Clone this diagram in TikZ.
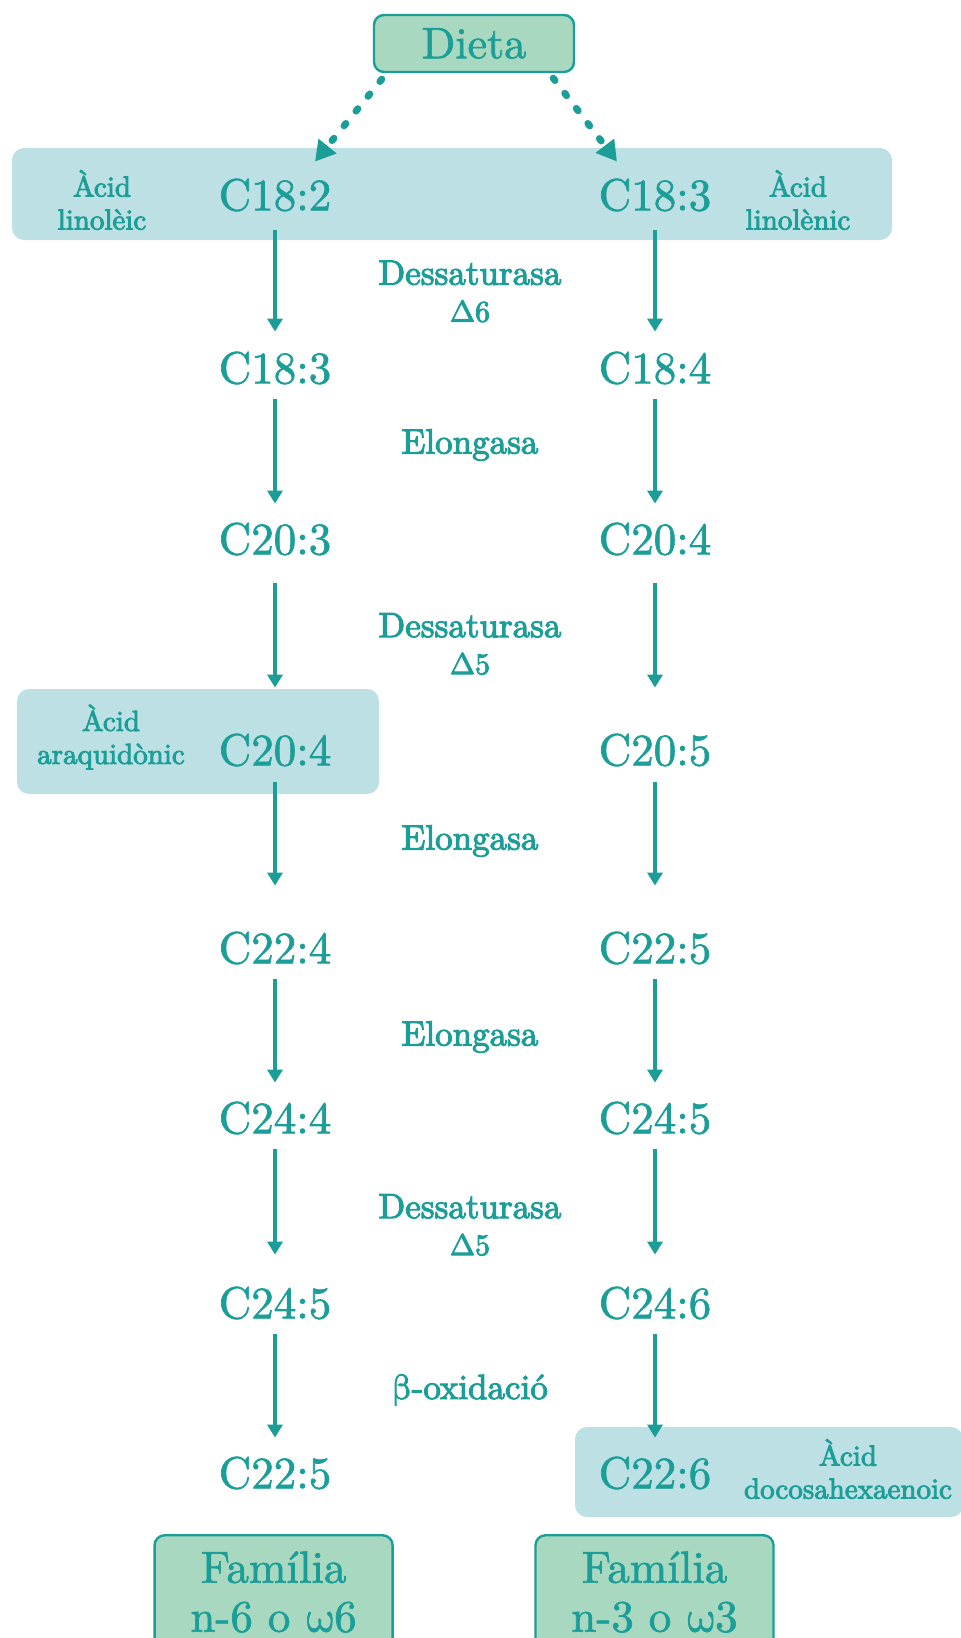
\documentclass[tikz,border=0pt]{standalone}
\usepackage{fontspec}
\setmainfont{lmroman10-regular}[Extension=.otf, FakeBold=1.5]
\newfontfamily\heavyrm{lmroman10-regular}[Extension=.otf, FakeBold=3]
\newfontfamily\greekrm{latinmodern-math}[Extension=.otf, FakeBold=1.5]
\newfontfamily\heavygreek{latinmodern-math}[Extension=.otf, FakeBold=3]
\usetikzlibrary{arrows.meta}
\definecolor{pathteal}{RGB}{28,158,152}
\definecolor{bandblue}{RGB}{188,224,227}
\definecolor{famgreen}{RGB}{168,216,191}

\begin{document}
\begin{tikzpicture}[
  x=0.5pt, y=-0.5pt,
  every node/.style={text=pathteal, inner sep=0pt},
  chainlabel/.style={font=\fontsize{22.5}{27}\selectfont, minimum height=31pt},
  enzyme/.style={font=\heavyrm\fontsize{17.5}{18.5}\selectfont, align=center},
  acidname/.style={font=\heavyrm\fontsize{14.5}{16.5}\selectfont, align=center},
  hilite/.style={fill=bandblue, rounded corners=6pt},
  sourcebox/.style={draw=pathteal, line width=1.2pt, fill=famgreen, rounded corners=5pt, align=center},
  arrow/.style={draw=pathteal, line width=2pt, -{Triangle[length=6.5pt, width=7.5pt]}},
  feed/.style={draw=pathteal, line width=3.5pt, line cap=round, dash pattern=on 1.5pt off 8pt, -{Triangle[length=10pt, width=11pt]}}
]
\useasboundingbox (0,0) rectangle (961,1638);
\clip (0,0) rectangle (961,1638);

% highlighted acids
\node[hilite, minimum width=440pt, minimum height=46pt] (linoband) at (452,194) {};
\node[hilite, minimum width=181pt, minimum height=52.5pt] (arabox) at (198,741.5) {};
\node[hilite, minimum width=194pt, minimum height=45pt] (dhabox) at (769,1472) {};

\node[sourcebox, font=\fontsize{22}{26}\selectfont, minimum width=100pt, minimum height=28.5pt] (dieta) at (474,43.5) {Dieta};

% n-6 column
\node[chainlabel] (l1) at (275,195) {C18:2};
\node[chainlabel] (l2) at (275,368) {C18:3};
\node[chainlabel] (l3) at (275,539) {C20:3};
\node[chainlabel] (l4) at (275,750) {C20:4};
\node[chainlabel] (l5) at (275,948) {C22:4};
\node[chainlabel] (l6) at (275,1118) {C24:4};
\node[chainlabel] (l7) at (275,1303) {C24:5};
\node[chainlabel] (l8) at (275,1473) {C22:5};

% n-3 column
\node[chainlabel] (r1) at (655,195) {C18:3};
\node[chainlabel] (r2) at (655,368) {C18:4};
\node[chainlabel] (r3) at (655,539) {C20:4};
\node[chainlabel] (r4) at (655,750) {C20:5};
\node[chainlabel] (r5) at (655,948) {C22:5};
\node[chainlabel] (r6) at (655,1118) {C24:5};
\node[chainlabel] (r7) at (655,1303) {C24:6};
\node[chainlabel] (r8) at (655,1473) {C22:6};

\node[acidname] (linoleic) at (102,200) {Àcid\\linolèic};
\node[acidname] (linolenic) at (798,200) {Àcid\\linolènic};
\node[acidname] (araq) at (111,737) {Àcid\\araquidònic};
\node[acidname] (dha) at (848,1469) {Àcid\\docosahexaenoic};

% enzymes
\node[enzyme] (des6) at (470,291.5) {Dessaturasa\\{\heavygreek\fontsize{15}{18.5}\selectfont Δ6}};
\node[enzyme] (elo1) at (470,445) {Elongasa};
\node[enzyme] (des5a) at (470,644) {Dessaturasa\\{\heavygreek\fontsize{15}{18.5}\selectfont Δ5}};
\node[enzyme] (elo2) at (470,841) {Elongasa};
\node[enzyme] (elo3) at (470,1037) {Elongasa};
\node[enzyme] (des5b) at (470,1225) {Dessaturasa\\{\heavygreek\fontsize{15}{18.5}\selectfont Δ5}};
\node[enzyme] (betaox) at (470,1390) {{\heavygreek β}-oxidació};

\node[sourcebox, font=\fontsize{22.5}{24.5}\selectfont, minimum width=119pt, minimum height=56.75pt] (fam6) at (273.6,1592) {Família\\n-6 o {\greekrm ω}6};
\node[sourcebox, font=\fontsize{22.5}{24.5}\selectfont, minimum width=119pt, minimum height=56.75pt] (fam3) at (654.5,1592) {Família\\n-3 o {\greekrm ω}3};

\draw[feed] ([shift={(9,6)}]dieta.south west) -- ([shift={(40,-2)}]l1.north);
\draw[feed] ([shift={(-22,5)}]dieta.south east) -- ([shift={(-38,-2)}]r1.north);

\draw[arrow, shorten <=2pt, shorten >=2.5pt] (l1) -- (l2);
\draw[arrow, shorten >=2pt] (l2) -- (l3);
\draw[arrow, shorten <=6.5pt, shorten >=15.5pt] (l3) -- (l4);
\draw[arrow, shorten <=0.5pt, shorten >=15.5pt] (l4) -- (l5);
\draw[arrow, shorten >=2pt] (l5) -- (l6);
\draw[arrow, shorten >=8.5pt] (l6) -- (l7);
\draw[arrow, shorten >=2pt] (l7) -- (l8);

\draw[arrow, shorten <=2pt, shorten >=2.5pt] (r1) -- (r2);
\draw[arrow, shorten >=2pt] (r2) -- (r3);
\draw[arrow, shorten <=6.5pt, shorten >=15.5pt] (r3) -- (r4);
\draw[arrow, shorten <=0.5pt, shorten >=15.5pt] (r4) -- (r5);
\draw[arrow, shorten >=2pt] (r5) -- (r6);
\draw[arrow, shorten >=8.5pt] (r6) -- (r7);
\draw[arrow, shorten >=2pt] (r7) -- (r8);
\end{tikzpicture}
\end{document}
